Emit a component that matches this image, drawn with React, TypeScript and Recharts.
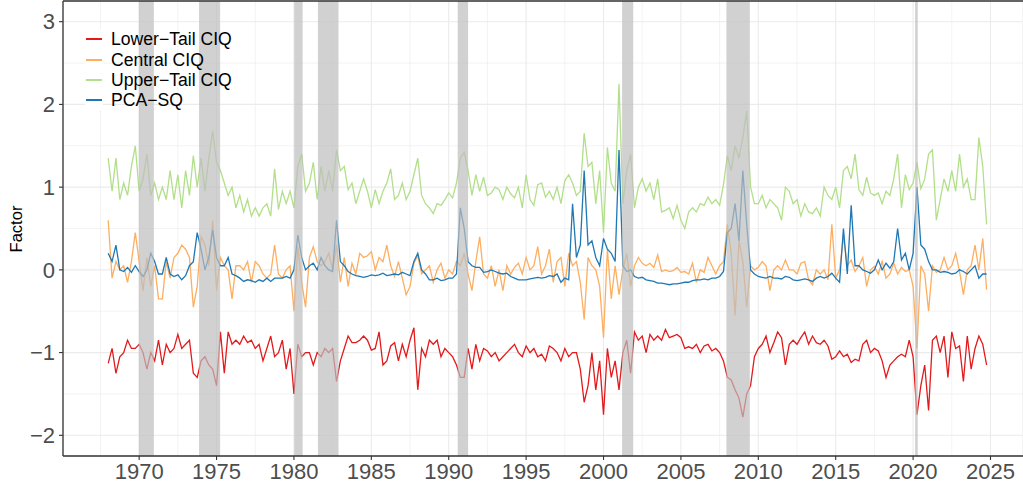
import React from 'react';
import {
  LineChart,
  Line,
  XAxis,
  YAxis,
  CartesianGrid,
  ReferenceArea,
  ReferenceLine,
} from 'recharts';

// quarterly readings, first value = 1968 Q1
const START_YEAR = 1968;

const LOWER_TAIL = [
  -1.13, -0.95, -1.25, -1.05, -1.0, -0.85, -0.95, -0.95,
  -0.9, -1.0, -1.2, -1.0, -1.1, -0.85, -1.15, -0.9,
  -1.0, -0.95, -0.78, -0.95, -0.9, -0.85, -1.25, -1.3,
  -1.1, -1.05, -1.15, -1.2, -1.4, -0.75, -1.25, -0.75,
  -0.9, -0.85, -0.9, -0.8, -0.88, -0.85, -0.95, -0.9,
  -1.1, -0.95, -0.8, -1.05, -1.0, -0.85, -1.2, -0.95,
  -1.5, -0.9, -1.05, -1.0, -1.0, -1.15, -1.0, -1.05,
  -0.95, -1.0, -0.95, -1.35, -1.1, -0.95, -0.8, -0.88,
  -0.88, -0.85, -0.8, -0.85, -0.97, -0.95, -0.75, -1.15,
  -1.1, -0.92, -0.88, -1.1, -0.9, -1.05, -0.85, -0.7,
  -1.45, -0.95, -1.05, -0.85, -0.9, -0.85, -1.05, -0.95,
  -1.0, -1.05, -1.15, -1.3, -1.3, -0.95, -1.2, -0.9,
  -1.1, -0.95, -0.98, -1.05, -1.0, -1.1, -1.05, -1.0,
  -0.95, -0.9, -1.0, -1.05, -0.92, -1.0, -0.95, -1.05,
  -1.02, -1.1, -0.92, -0.95, -1.0, -1.1, -0.95, -1.05,
  -1.0, -1.0, -1.2, -1.6, -1.4, -1.0, -1.45, -1.1,
  -1.75, -0.95, -1.3, -1.1, -1.45, -1.0, -0.85, -1.25,
  -0.75, -0.85, -0.8, -1.0, -0.78, -0.85, -0.8, -0.85,
  -0.72, -0.82, -0.8, -0.78, -0.82, -0.95, -0.93, -0.95,
  -0.9, -1.0, -0.92, -0.9, -0.98, -0.95, -1.0, -1.1,
  -1.3, -1.33, -1.45, -1.55, -1.78, -1.5, -1.4, -1.05,
  -0.95, -0.9, -0.8, -1.0, -0.88, -0.75, -0.82, -1.15,
  -0.9, -0.85, -0.9, -0.82, -0.75, -0.9, -0.8, -0.88,
  -0.9, -0.85, -0.92, -1.08, -1.05, -0.98, -1.05, -1.02,
  -1.12, -1.08, -1.1, -0.9, -0.85, -1.0, -0.95, -0.98,
  -1.1, -1.3, -1.15, -1.1, -1.05, -1.02, -1.05, -0.85,
  -1.05, -1.75, -1.4, -1.15, -1.7, -0.85, -0.8, -1.0,
  -0.8, -1.3, -0.75, -0.95, -0.92, -1.35, -0.8, -1.2,
  -0.95, -0.8, -0.9, -1.15,
];

const CENTRAL = [
  0.6, -0.1, 0.1, 0.0, 0.05, -0.15, 0.1, 0.45,
  0.1, -0.25, 0.15, -0.2, 0.05, -0.35, -0.35, 0.1,
  -0.1, 0.15, 0.2, 0.3, 0.25, 0.15, -0.45, -0.2,
  0.4, 0.3, 0.05, 0.6, -0.25, 0.15, 0.05, 0.0,
  -0.35, 0.05, 0.05, 0.0, 0.1, -0.15, 0.1, 0.05,
  -0.05, -0.1, -0.05, 0.3, -0.05, -0.1, 0.0, 0.05,
  -0.5, 0.28, -0.15, -0.45, 0.15, 0.28, 0.1, 0.05,
  0.1, 0.2, 0.0, 0.3, -0.15, 0.15, -0.2, 0.08,
  -0.05, 0.2, 0.15, 0.17, 0.22, 0.0, 0.15, 0.1,
  0.3, 0.05, -0.08, 0.1, -0.1, -0.3, -0.2, 0.08,
  0.17, -0.05, 0.0, 0.05, -0.15, 0.0, 0.08, -0.1,
  0.0, -0.05, 0.1, 0.05, 0.2, -0.05, -0.25, 0.1,
  0.4, -0.05, -0.1, 0.05, -0.2, 0.0, -0.25, 0.05,
  -0.05, 0.03, 0.08, -0.05, 0.15, 0.0, 0.05, 0.28,
  -0.05, 0.05, 0.25, -0.15, 0.1, 0.15, -0.2, 0.2,
  0.05, 0.1, -0.15, -0.6, 0.15, 0.05, 0.0, -0.2,
  -0.82, 0.25, -0.35, 0.05, -0.3, 0.0, 0.2, -0.2,
  0.05, 0.15, 0.08, 0.05, 0.08, 0.03, 0.18, -0.02,
  0.0, -0.02, -0.01, 0.03, -0.03, -0.02, -0.05, 0.08,
  -0.15, 0.0, -0.03, 0.15, 0.05, -0.05, 0.05, 0.1,
  0.55, 0.2, -0.55, 0.35, 0.1, -0.45, 0.05, 0.0,
  0.03, 0.1, 0.05, -0.25, 0.0, 0.05, 0.0, 0.12,
  0.0, 0.0, -0.05, 0.08, 0.1, -0.12, -0.18, 0.0,
  -0.05, 0.0, -0.12, 0.55, -0.1, 0.0, 0.4, 0.05,
  0.12, -0.02, 0.05, 0.15, -0.2, 0.0, 0.04, -0.05,
  0.1, -0.1, -0.05, 0.08, -0.05, 0.03, -0.02, 0.0,
  -0.2, -0.95, 0.05, -0.05, -0.5, 0.05, -0.03, 0.0,
  0.15, 0.0, 0.05, 0.2, -0.02, -0.3, 0.0, 0.05,
  0.3, 0.0, 0.38, -0.24,
];

const UPPER_TAIL = [
  1.35, 0.95, 1.35, 0.85, 1.05, 0.9, 1.25, 1.5,
  0.95, 1.1, 1.4, 0.9, 1.05, 0.85, 1.0, 0.85,
  1.2, 0.85, 1.15, 0.75, 1.2, 0.9, 1.38, 1.0,
  1.35, 0.95, 1.35, 1.68, 1.3, 1.2, 1.05, 0.9,
  1.0, 0.75, 0.9, 0.7, 0.85, 0.65, 0.75, 0.65,
  0.75, 0.8, 0.65, 1.22, 0.73, 0.95, 0.8, 0.95,
  0.75, 1.25, 1.4, 0.95, 1.05, 1.3, 0.85, 1.25,
  0.95, 1.2, 0.95, 1.45, 1.2, 1.25, 0.97, 1.05,
  0.8, 0.95, 1.1, 0.95, 0.75, 0.97, 0.8, 0.95,
  1.05, 1.22, 0.85, 0.9, 1.05, 0.85, 0.95, 1.15,
  1.35, 0.9, 0.8, 0.75, 0.68, 0.8, 0.78, 0.85,
  0.93, 0.87, 1.05, 1.35, 1.42, 1.2, 0.9, 1.15,
  0.95, 1.12, 0.9, 0.93, 1.0, 0.97, 0.85, 1.0,
  0.92, 0.87, 1.0, 0.75, 1.15, 0.85, 0.78, 1.03,
  1.05, 0.88, 0.95, 0.85, 1.0, 0.8, 1.08, 1.15,
  1.05, 0.9, 0.95, 1.65, 1.25, 1.3, 0.8, 1.2,
  0.45, 1.48, 1.05, 0.95, 2.25, 0.8, 1.2, 1.4,
  0.75, 1.0, 1.1, 0.95, 1.05, 0.85, 1.1, 0.7,
  0.72, 0.75, 0.62, 0.78, 0.6, 0.5, 0.7, 0.75,
  0.7, 0.8, 0.78, 0.88, 0.8, 0.85, 0.78, 1.03,
  1.38, 1.2, 1.5, 1.35, 1.6, 1.92, 1.0, 0.8,
  0.8, 0.9, 0.75, 0.85, 0.8, 0.75, 0.6, 1.0,
  0.95, 0.8, 0.85, 0.65, 0.8, 0.7, 0.68, 0.75,
  0.65, 1.0, 0.9, 0.85, 1.0, 0.75, 1.2, 1.25,
  1.1, 1.4, 0.97, 0.9, 1.12, 0.93, 0.9, 0.93,
  0.8, 0.95, 0.9, 1.1, 1.4, 0.75, 1.15, 0.97,
  1.05, 1.3, 0.98, 1.1, 1.4, 1.45, 0.6, 0.85,
  1.1, 0.95, 1.2, 0.95, 1.4, 1.0, 1.1, 0.85,
  0.85, 1.6, 1.25, 0.55,
];

const PCA_SQ = [
  0.2, 0.1, 0.3, 0.0, -0.02, 0.03, -0.03, 0.05,
  -0.02, -0.08, 0.0, 0.2, 0.1, -0.05, -0.05, 0.15,
  -0.05, -0.08, -0.06, -0.12, -0.07, 0.05, 0.1, 0.45,
  0.25, 0.0, 0.15, 0.48, 0.15, 0.05, 0.05, 0.15,
  -0.05, -0.07, -0.1, -0.14, -0.12, -0.13, -0.15, -0.12,
  -0.14, -0.1, -0.14, -0.1, -0.1, -0.1, -0.08, -0.1,
  0.0, 0.42, 0.15, 0.0, 0.05, 0.08, 0.0, 0.15,
  0.05, 0.0, -0.02, 0.6, 0.1, 0.05, -0.02, -0.05,
  -0.07, -0.08, -0.09, -0.08, -0.06, -0.07, -0.06, -0.04,
  -0.07, -0.06, -0.05, -0.06, -0.03, -0.05, -0.07, 0.1,
  0.2, 0.0, -0.05, -0.12, -0.12, -0.1, -0.13, -0.12,
  -0.1, -0.1, -0.05, 0.75, 0.5, 0.1, 0.05, 0.03,
  0.03, -0.03, -0.02, 0.0, -0.02, -0.04, -0.05, -0.04,
  -0.08, -0.1, -0.12, -0.12, -0.12, -0.11, -0.1, -0.09,
  -0.1, -0.09, -0.07, -0.08, -0.05, -0.15, -0.1, -0.12,
  0.8, 0.15, 0.3, 1.2, 0.3, 0.35, 0.15, 0.05,
  0.38, 0.25, 0.2, 0.1, 1.45, 0.05, -0.02, 0.0,
  -0.08, -0.1, -0.09, -0.12, -0.13, -0.14, -0.16, -0.16,
  -0.17, -0.18, -0.17, -0.17, -0.16, -0.15, -0.15, -0.13,
  -0.12, -0.12, -0.11, -0.12, -0.1, -0.1, -0.08, -0.02,
  0.45, 0.5, 0.8, 0.35, 1.2, 0.55, 0.0, -0.05,
  -0.08, -0.09, -0.1, -0.08, -0.1, -0.1, -0.11, -0.08,
  -0.09, -0.12, -0.13, -0.12, -0.11, -0.12, -0.14, -0.1,
  -0.08, -0.1, -0.08, -0.04, -0.1, -0.15, 0.5, -0.05,
  0.78, 0.05, 0.05, 0.0, -0.02, -0.04, 0.0, 0.12,
  0.0, 0.08, 0.02, 0.1, 0.5, 0.12, 0.2, 0.0,
  0.2, 1.0, 0.3, 0.25, 0.1, 0.0, 0.0, -0.03,
  -0.02, -0.03, -0.05, -0.04, 0.0, -0.02, -0.05, 0.0,
  0.05, -0.1, -0.05, -0.05,
];

// NBER recessions (start, end) in decimal years
const RECESSIONS: [number, number][] = [
  [1969.98, 1970.95],
  [1973.87, 1975.23],
  [1980.02, 1980.56],
  [1981.55, 1982.88],
  [1990.58, 1991.25],
  [2001.2, 2001.92],
  [2007.94, 2009.45],
  [2020.13, 2020.3],
];

const X_TICKS = [1970, 1975, 1980, 1985, 1990, 1995, 2000, 2005, 2010, 2015, 2020, 2025];
const X_MINOR = [1967.5, 1972.5, 1977.5, 1982.5, 1987.5, 1992.5, 1997.5, 2002.5, 2007.5, 2012.5, 2017.5, 2022.5];
const Y_TICKS = [-2, -1, 0, 1, 2, 3];
const Y_MINOR = [-1.5, -0.5, 0.5, 1.5, 2.5];

const SERIES = [
  { key: 'lower', name: 'Lower\u2212Tail CIQ', color: '#E31A1C' },
  { key: 'central', name: 'Central CIQ', color: '#FDAE61' },
  { key: 'upper', name: 'Upper\u2212Tail CIQ', color: '#B2DF8A' },
  { key: 'pca', name: 'PCA\u2212SQ', color: '#1F78B4' },
];

const data = LOWER_TAIL.map((v, i) => ({
  t: START_YEAR + i / 4,
  lower: v,
  central: CENTRAL[i],
  upper: UPPER_TAIL[i],
  pca: PCA_SQ[i],
}));

const FONT = '"Liberation Sans", Arial, Helvetica, sans-serif';
const GRID = '#EBEBEB';
const BORDER = '#333333';

const fmtY = (v: number) => String(v).replace('-', '\u2212');

function Legend() {
  const rows = [39, 59.5, 80, 100];
  return (
    <>
      {SERIES.map((s, i) => (
        <React.Fragment key={s.key}>
          <div
            style={{
              position: 'absolute',
              left: 85,
              top: rows[i] - 10,
              width: 18,
              height: 20,
              background: '#fff',
            }}
          >
            <div style={{ position: 'absolute', left: 1, top: 9, width: 16, height: 2, background: s.color }} />
          </div>
          <div
            style={{
              position: 'absolute',
              left: 111,
              top: rows[i] - 11,
              height: 22,
              lineHeight: '22px',
              fontSize: 17.6,
              fontFamily: FONT,
              color: '#000',
              whiteSpace: 'nowrap',
            }}
          >
            {s.name}
          </div>
        </React.Fragment>
      ))}
    </>
  );
}

export default function App() {
  return (
    <div style={{ position: 'absolute', left: 0, top: 0, width: 1023, height: 487, background: '#fff', overflow: 'hidden' }}>
      <LineChart width={1023} height={487} data={data} margin={{ top: 1, right: 0, bottom: 0, left: 0 }}>
        <CartesianGrid stroke={GRID} strokeWidth={1.1} />
        {X_MINOR.map((x) => (
          <ReferenceLine key={'xm' + x} x={x} stroke={GRID} strokeWidth={0.6} zIndex={-90} />
        ))}
        {Y_MINOR.map((y) => (
          <ReferenceLine key={'ym' + y} y={y} stroke={GRID} strokeWidth={0.6} zIndex={-90} />
        ))}
        <XAxis
          dataKey="t"
          type="number"
          domain={[1965.08, 2027.1]}
          allowDataOverflow
          ticks={X_TICKS}
          height={31}
          tickSize={4}
          tickMargin={3}
          axisLine={{ stroke: BORDER, strokeWidth: 1.3 }}
          tickLine={{ stroke: BORDER, strokeWidth: 1.1 }}
          tick={{ fill: '#4D4D4D', fontSize: 22, fontFamily: FONT }}
        />
        <YAxis
          type="number"
          domain={[-2.25, 3.25]}
          allowDataOverflow
          ticks={Y_TICKS}
          width={63}
          tickSize={4}
          tickMargin={4}
          tickFormatter={fmtY}
          axisLine={{ stroke: BORDER, strokeWidth: 1.3 }}
          tickLine={{ stroke: BORDER, strokeWidth: 1.1 }}
          tick={{ fill: '#4D4D4D', fontSize: 22, fontFamily: FONT }}
        />
        {SERIES.map((s) => (
          <Line
            key={s.key}
            type="linear"
            dataKey={s.key}
            name={s.name}
            stroke={s.color}
            strokeWidth={1.3}
            dot={false}
            activeDot={false}
            isAnimationActive={false}
          />
        ))}
        {RECESSIONS.map(([a, b]) => (
          <ReferenceArea
            key={'r' + a}
            x1={a}
            x2={b}
            y1={-2.25}
            y2={3.25}
            fill="#BEBEBE"
            fillOpacity={0.7}
            stroke="none"
            zIndex={450}
          />
        ))}
        <ReferenceLine y={3.25} stroke={BORDER} strokeWidth={1.3} zIndex={500} />
      </LineChart>
      <Legend />
      <div
        style={{
          position: 'absolute',
          left: 16,
          top: 228.5,
          transform: 'translate(-50%, -50%) rotate(-90deg)',
          fontSize: 16.5,
          fontFamily: FONT,
          color: '#000',
          whiteSpace: 'nowrap',
        }}
      >
        Factor
      </div>
    </div>
  );
}
